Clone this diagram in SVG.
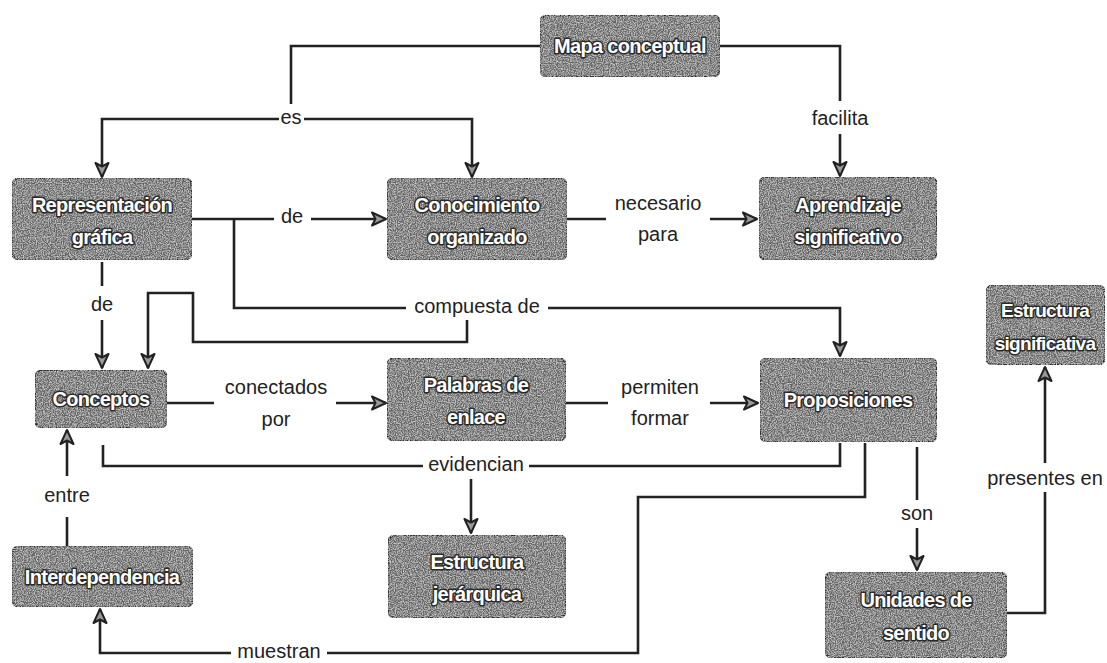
<svg xmlns="http://www.w3.org/2000/svg" width="1107" height="663" viewBox="0 0 1107 663">
<style>
.box{fill:#646464;stroke:#2e2e2e;stroke-width:2.2;filter:url(#grain)}
.bt{font-family:"Liberation Sans",Arial,sans-serif;font-size:20px;font-weight:bold;fill:#fff;stroke:#2a2a2a;stroke-width:3;paint-order:stroke;stroke-linejoin:round;text-anchor:middle;dominant-baseline:central;letter-spacing:-0.7px}
.ln{fill:none;stroke:#222;stroke-width:2.6}
.lb{font-family:"Liberation Sans",Arial,sans-serif;font-size:20px;fill:#222;text-anchor:middle;dominant-baseline:central}
</style>
<defs>
<filter id="grain" x="0" y="0" width="100%" height="100%">
<feTurbulence type="fractalNoise" baseFrequency="0.85" numOctaves="2" seed="7" result="n"/>
<feColorMatrix in="n" type="matrix" values="0 0 0 0 0.85  0 0 0 0 0.85  0 0 0 0 0.85  0 0 0 1.6 -0.6" result="w"/>
<feComposite in="w" in2="SourceAlpha" operator="in" result="ws"/>
<feMerge><feMergeNode in="SourceGraphic"/><feMergeNode in="ws"/></feMerge>
</filter>
<marker id="ah" markerUnits="userSpaceOnUse" markerWidth="18" markerHeight="18" refX="15" refY="8" orient="auto">
<path d="M1,1.5 L15,8 L1,14.5 L4.5,8 Z" fill="#9a9a9a" stroke="#222" stroke-width="2" stroke-linejoin="round"/>
</marker>
</defs>
<rect width="1107" height="663" fill="#fff"/>

<g id="connectors">
<!-- es -->
<path class="ln" d="M540,46 H291 V104"/>
<path class="ln" d="M279,119 H102 V177" marker-end="url(#ah)"/>
<path class="ln" d="M304,119 H472 V177" marker-end="url(#ah)"/>
<text class="lb" x="291" y="117">es</text>
<!-- facilita -->
<path class="ln" d="M720,46 H840 V101"/>
<path class="ln" d="M840,134 V176" marker-end="url(#ah)"/>
<text class="lb" x="840" y="118">facilita</text>
<!-- de (Rep -> Conocimiento) -->
<path class="ln" d="M192,219 H274"/>
<path class="ln" d="M311,219 H386" marker-end="url(#ah)"/>
<text class="lb" x="292" y="216">de</text>
<!-- necesario para -->
<path class="ln" d="M567,219 H606"/>
<path class="ln" d="M710,219 H757" marker-end="url(#ah)"/>
<text class="lb" x="658" y="203">necesario</text>
<text class="lb" x="658" y="234">para</text>
<!-- compuesta de -->
<path class="ln" d="M234,219 V308 H406"/>
<path class="ln" d="M548,308 H840 V356" marker-end="url(#ah)"/>
<path class="ln" d="M467,320 V342 H193 V293 H148 V368" marker-end="url(#ah)"/>
<text class="lb" x="477" y="306">compuesta de</text>
<!-- de (Rep -> Conceptos) -->
<path class="ln" d="M102,262 V286"/>
<path class="ln" d="M102,320 V368" marker-end="url(#ah)"/>
<text class="lb" x="102" y="304">de</text>
<!-- conectados por -->
<path class="ln" d="M167,403 H214"/>
<path class="ln" d="M336,403 H386" marker-end="url(#ah)"/>
<text class="lb" x="276" y="387">conectados</text>
<text class="lb" x="276" y="419">por</text>
<!-- permiten formar -->
<path class="ln" d="M566,403 H608"/>
<path class="ln" d="M710,403 H758" marker-end="url(#ah)"/>
<text class="lb" x="660" y="387">permiten</text>
<text class="lb" x="660" y="418">formar</text>
<!-- evidencian -->
<path class="ln" d="M103,445 V466 H423"/>
<path class="ln" d="M529,466 H840 V443"/>
<path class="ln" d="M471,479 V533" marker-end="url(#ah)"/>
<text class="lb" x="476" y="464">evidencian</text>
<!-- muestran -->
<path class="ln" d="M865,443 V497 H638 V653 H327"/>
<path class="ln" d="M231,653 H100 V609" marker-end="url(#ah)"/>
<text class="lb" x="279" y="651">muestran</text>
<!-- entre -->
<path class="ln" d="M67,546 V517"/>
<path class="ln" d="M67,476 V430" marker-end="url(#ah)"/>
<text class="lb" x="67" y="495">entre</text>
<!-- son -->
<path class="ln" d="M917,447 V500"/>
<path class="ln" d="M917,528 V570" marker-end="url(#ah)"/>
<text class="lb" x="917" y="513">son</text>
<!-- presentes en -->
<path class="ln" d="M1007,613 H1045 V492"/>
<path class="ln" d="M1045,463 V367" marker-end="url(#ah)"/>
<text class="lb" x="1045" y="478">presentes en</text>
</g>

<g id="n-mapa">
<rect class="box" x="540" y="15" width="180" height="62" rx="8"/>
<text class="bt" x="630" y="46">Mapa conceptual</text>
</g>
<g id="n-representacion">
<rect class="box" x="12" y="178" width="180" height="82" rx="8"/>
<text class="bt" x="102" y="205">Representación</text>
<text class="bt" x="102" y="237">gráfica</text>
</g>
<g id="n-conocimiento">
<rect class="box" x="387" y="178" width="180" height="82" rx="8"/>
<text class="bt" x="477" y="205">Conocimiento</text>
<text class="bt" x="477" y="237">organizado</text>
</g>
<g id="n-aprendizaje">
<rect class="box" x="759" y="177" width="178" height="83" rx="8"/>
<text class="bt" x="848" y="205">Aprendizaje</text>
<text class="bt" x="848" y="237">significativo</text>
</g>
<g id="n-estructura-significativa">
<rect class="box" x="986" y="285" width="119" height="80" rx="8"/>
<text class="bt" x="1045" y="310" style="font-size:19px">Estructura</text>
<text class="bt" x="1045" y="343" style="font-size:19px">significativa</text>
</g>
<g id="n-conceptos">
<rect class="box" x="35" y="370" width="132" height="58" rx="8"/>
<text class="bt" x="101" y="399">Conceptos</text>
</g>
<g id="n-palabras">
<rect class="box" x="387" y="358" width="179" height="83" rx="8"/>
<text class="bt" x="476" y="385">Palabras de</text>
<text class="bt" x="476" y="417">enlace</text>
</g>
<g id="n-proposiciones">
<rect class="box" x="760" y="358" width="177" height="84" rx="8"/>
<text class="bt" x="848" y="400">Proposiciones</text>
</g>
<g id="n-interdependencia">
<rect class="box" x="12" y="546" width="181" height="61" rx="8"/>
<text class="bt" x="102" y="577">Interdependencia</text>
</g>
<g id="n-estructura-jerarquica">
<rect class="box" x="388" y="535" width="178" height="83" rx="8"/>
<text class="bt" x="477" y="562">Estructura</text>
<text class="bt" x="477" y="594">jerárquica</text>
</g>
<g id="n-unidades">
<rect class="box" x="825" y="572" width="182" height="86" rx="8"/>
<text class="bt" x="916" y="600">Unidades de</text>
<text class="bt" x="916" y="633">sentido</text>
</g>
</svg>
